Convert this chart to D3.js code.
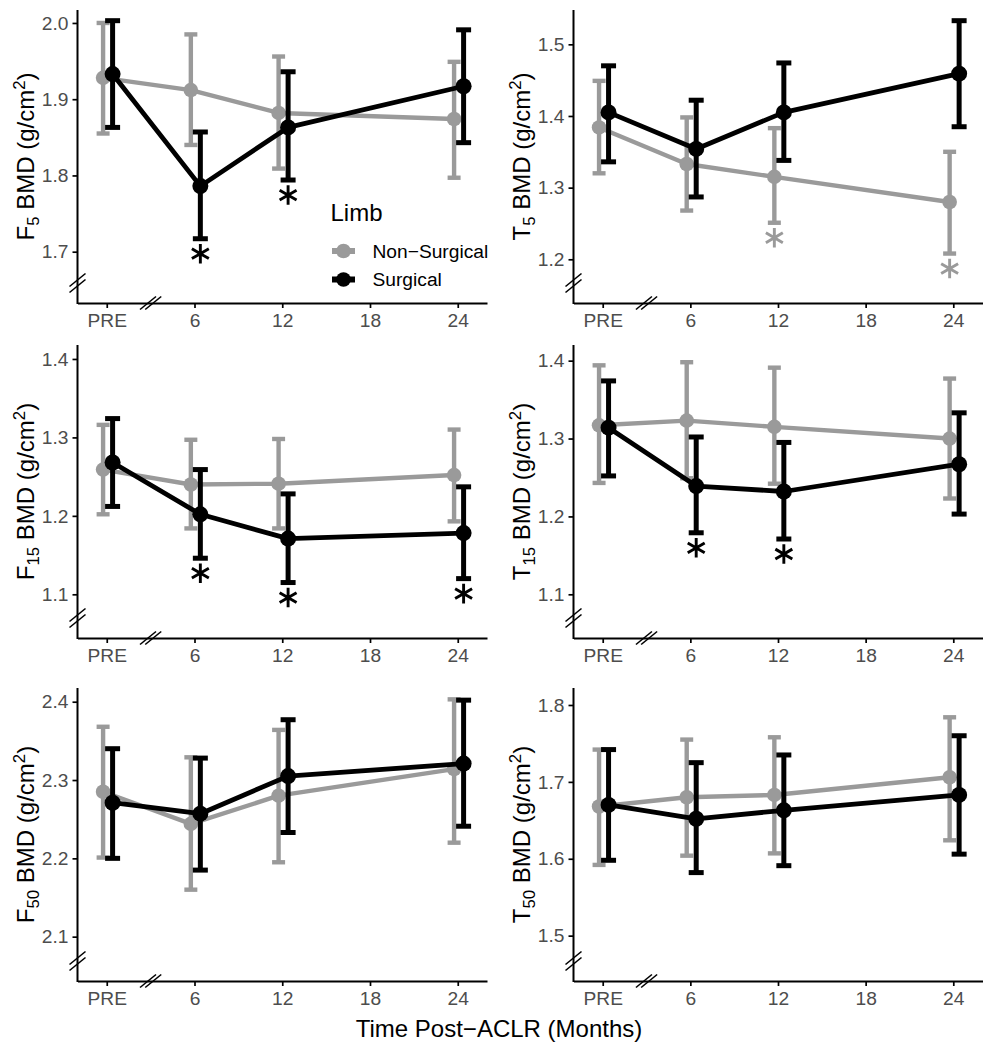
<!DOCTYPE html>
<html><head><meta charset="utf-8">
<script src="https://cdn.jsdelivr.net/npm/d3@7"></script>
<style>
body{margin:0;background:#fff}
svg{display:block}
text{font-family:"Liberation Sans",Arial,Helvetica,sans-serif}
</style>
</head><body>
<svg id="c" width="994" height="1050"></svg>
<script>
// ---------------- DATA ----------------
const seriesNames = ["Non\u2212Surgical", "Surgical"];
const timePoints = [0, 6, 12, 24];           // months (PRE = 0)
const xTicks = [0, 6, 12, 18, 24];
const xTickLabels = ["PRE", "6", "12", "18", "24"];
const xDomain = [-2, 26];

// F5
const F5_non_mean = [1.928, 1.912, 1.882, 1.874];
const F5_non_lo   = [1.855, 1.840, 1.809, 1.797];
const F5_non_hi   = [2.000, 1.985, 1.956, 1.949];
const F5_sur_mean = [1.933, 1.786, 1.863, 1.917];
const F5_sur_lo   = [1.863, 1.717, 1.794, 1.843];
const F5_sur_hi   = [2.003, 1.857, 1.936, 1.991];
// T5
const T5_non_mean = [1.384, 1.333, 1.315, 1.280];
const T5_non_lo   = [1.320, 1.268, 1.251, 1.208];
const T5_non_hi   = [1.449, 1.398, 1.383, 1.350];
const T5_sur_mean = [1.405, 1.354, 1.405, 1.459];
const T5_sur_lo   = [1.336, 1.287, 1.338, 1.385];
const T5_sur_hi   = [1.470, 1.422, 1.474, 1.533];
// F15
const F15_non_mean = [1.259, 1.240, 1.241, 1.252];
const F15_non_lo   = [1.202, 1.184, 1.184, 1.193];
const F15_non_hi   = [1.316, 1.297, 1.298, 1.310];
const F15_sur_mean = [1.268, 1.202, 1.171, 1.178];
const F15_sur_lo   = [1.212, 1.146, 1.115, 1.120];
const F15_sur_hi   = [1.324, 1.259, 1.228, 1.237];
// T15
const T15_non_mean = [1.317, 1.323, 1.315, 1.300];
const T15_non_lo   = [1.243, 1.249, 1.242, 1.223];
const T15_non_hi   = [1.394, 1.398, 1.391, 1.377];
const T15_sur_mean = [1.314, 1.239, 1.232, 1.267];
const T15_sur_lo   = [1.252, 1.179, 1.171, 1.203];
const T15_sur_hi   = [1.374, 1.302, 1.295, 1.333];
// F50
const F50_non_mean = [2.285, 2.244, 2.280, 2.314];
const F50_non_lo   = [2.201, 2.160, 2.195, 2.220];
const F50_non_hi   = [2.368, 2.329, 2.364, 2.403];
const F50_sur_mean = [2.271, 2.257, 2.305, 2.321];
const F50_sur_lo   = [2.200, 2.185, 2.233, 2.241];
const F50_sur_hi   = [2.340, 2.328, 2.377, 2.402];
// T50
const T50_non_mean = [1.668, 1.680, 1.683, 1.706];
const T50_non_lo   = [1.592, 1.604, 1.607, 1.624];
const T50_non_hi   = [1.742, 1.755, 1.758, 1.784];
const T50_sur_mean = [1.670, 1.652, 1.663, 1.683];
const T50_sur_lo   = [1.598, 1.582, 1.591, 1.606];
const T50_sur_hi   = [1.742, 1.725, 1.735, 1.760];

// significance markers: [series index, time]
const F5_sig  = [[1, 6], [1, 12]];
const T5_sig  = [[0, 12], [0, 24]];
const F15_sig = [[1, 6], [1, 12], [1, 24]];
const T15_sig = [[1, 6], [1, 12]];
const F50_sig = [];
const T50_sig = [];

// axis limits and ticks
const F5_yDomain = [1.6327, 2.017],  F5_yTicks = [1.7, 1.8, 1.9, 2.0];
const T5_yDomain = [1.139, 1.5479],  T5_yTicks = [1.2, 1.3, 1.4, 1.5];
const F15_yDomain = [1.0443, 1.4178], F15_yTicks = [1.1, 1.2, 1.3, 1.4];
const T15_yDomain = [1.0439, 1.4201], T15_yTicks = [1.1, 1.2, 1.3, 1.4];
const F50_yDomain = [2.0434, 2.4175], F50_yTicks = [2.1, 2.2, 2.3, 2.4];
const T50_yDomain = [1.441, 1.8221],  T50_yTicks = [1.5, 1.6, 1.7, 1.8];

const panelLetters = ["F", "T", "F", "T", "F", "T"];
const panelSubs = ["5", "5", "15", "15", "50", "50"];

// --------------- BUILD ---------------
function mk(mean, lo, hi) { return timePoints.map((t, i) => ({t, m: mean[i], lo: lo[i], hi: hi[i]})); }
const panels = [
  {series: [mk(F5_non_mean, F5_non_lo, F5_non_hi), mk(F5_sur_mean, F5_sur_lo, F5_sur_hi)], sig: F5_sig, yDomain: F5_yDomain, yTicks: F5_yTicks},
  {series: [mk(T5_non_mean, T5_non_lo, T5_non_hi), mk(T5_sur_mean, T5_sur_lo, T5_sur_hi)], sig: T5_sig, yDomain: T5_yDomain, yTicks: T5_yTicks},
  {series: [mk(F15_non_mean, F15_non_lo, F15_non_hi), mk(F15_sur_mean, F15_sur_lo, F15_sur_hi)], sig: F15_sig, yDomain: F15_yDomain, yTicks: F15_yTicks},
  {series: [mk(T15_non_mean, T15_non_lo, T15_non_hi), mk(T15_sur_mean, T15_sur_lo, T15_sur_hi)], sig: T15_sig, yDomain: T15_yDomain, yTicks: T15_yTicks},
  {series: [mk(F50_non_mean, F50_non_lo, F50_non_hi), mk(F50_sur_mean, F50_sur_lo, F50_sur_hi)], sig: F50_sig, yDomain: F50_yDomain, yTicks: F50_yTicks},
  {series: [mk(T50_non_mean, T50_non_lo, T50_non_hi), mk(T50_sur_mean, T50_sur_lo, T50_sur_hi)], sig: T50_sig, yDomain: T50_yDomain, yTicks: T50_yTicks},
];

const COLORS = ["#9a9a9a", "#000000"];
const DODGE = [-0.25, 0.4];       // months
const CAP = [6.5, 7.5];
const EBW = [4.4, 5];
const LW = [4.4, 4.8];
const R = [7.3, 8];
const cols = [[77.5, 487], [573.5, 982.5]];
const rows = [[10, 303], [345, 638], [688, 981]];
const TICK_COL = "#4D4D4D";

const svg = d3.select("#c");
svg.append("rect").attr("width", 994).attr("height", 1050).attr("fill", "#fff");
const star = d3.symbol().type(d3.symbolAsterisk).size(270);

panels.forEach((p, i) => {
  const col = i % 2, row = Math.floor(i / 2);
  const x = d3.scaleLinear().domain(xDomain).range(cols[col]);
  const y = d3.scaleLinear().domain(p.yDomain).range([rows[row][1], rows[row][0]]);
  const g = svg.append("g");

  // x axis
  const gx = g.append("g").attr("transform", `translate(0,${rows[row][1]})`)
    .call(d3.axisBottom(x).tickValues(xTicks).tickFormat((d, j) => xTickLabels[j])
      .tickSize(5).tickSizeOuter(0).tickPadding(5));
  // y axis
  const gy = g.append("g").attr("transform", `translate(${cols[col][0]},0)`)
    .call(d3.axisLeft(y).tickValues(p.yTicks).tickFormat(d3.format(".1f"))
      .tickSize(5).tickSizeOuter(0).tickPadding(4));
  [gx, gy].forEach(a => {
    a.select(".domain").attr("stroke", "#000").attr("stroke-width", 2);
    a.selectAll(".tick line").attr("stroke", "#000").attr("stroke-width", 1.7);
    a.selectAll(".tick text").attr("fill", TICK_COL).attr("font-size", 19.2)
      .attr("font-family", '"Liberation Sans",Arial,sans-serif');
  });
  gy.select(".domain").attr("d", `M0,${rows[row][0]}V${rows[row][1] + 1}`);

  // axis break marks
  const bx = cols[col][0], by = rows[row][1] - 20;
  [-3, 3].forEach(o => {
    g.append("line").attr("x1", bx - 8).attr("y1", by + o + 6.5).attr("x2", bx + 8).attr("y2", by + o - 6.5)
      .attr("stroke", "#000").attr("stroke-width", 1.6);
  });
  const cx = x(3), cy = rows[row][1];
  [-2.6, 2.6].forEach(o => {
    g.append("line").attr("x1", cx + o - 8).attr("y1", cy + 6.5).attr("x2", cx + o + 8).attr("y2", cy - 6.5)
      .attr("stroke", "#000").attr("stroke-width", 1.6);
  });

  // y title
  const ty = g.append("text")
    .attr("transform", `translate(${cols[col][0] - 44},${(rows[row][0] + rows[row][1]) / 2}) rotate(-90)`)
    .attr("text-anchor", "middle").attr("font-size", 24).attr("fill", "#000");
  ty.append("tspan").text(panelLetters[i]);
  ty.append("tspan").attr("font-size", 16.8).attr("dy", 5).text(panelSubs[i]);
  ty.append("tspan").attr("dy", -5).text(" BMD (g/cm");
  ty.append("tspan").attr("font-size", 16.8).attr("dy", -9).text("2");
  ty.append("tspan").attr("dy", 9).text(")");

  // series
  p.series.forEach((s, k) => {
    const sg = g.append("g");
    const xp = d => x(d.t + DODGE[k]);
    sg.append("path").datum(s)
      .attr("d", d3.line().x(xp).y(d => y(d.m)))
      .attr("fill", "none").attr("stroke", COLORS[k]).attr("stroke-width", LW[k]).attr("stroke-linejoin", "round");
    const eb = sg.selectAll("g.eb").data(s).join("g");
    eb.append("line").attr("x1", xp).attr("x2", xp).attr("y1", d => y(d.lo)).attr("y2", d => y(d.hi))
      .attr("stroke", COLORS[k]).attr("stroke-width", EBW[k]);
    eb.append("line").attr("x1", d => xp(d) - CAP[k]).attr("x2", d => xp(d) + CAP[k])
      .attr("y1", d => y(d.lo)).attr("y2", d => y(d.lo)).attr("stroke", COLORS[k]).attr("stroke-width", EBW[k]);
    eb.append("line").attr("x1", d => xp(d) - CAP[k]).attr("x2", d => xp(d) + CAP[k])
      .attr("y1", d => y(d.hi)).attr("y2", d => y(d.hi)).attr("stroke", COLORS[k]).attr("stroke-width", EBW[k]);
    sg.selectAll("circle").data(s).join("circle")
      .attr("cx", xp).attr("cy", d => y(d.m)).attr("r", R[k]).attr("fill", COLORS[k]);
  });

  // significance asterisks
  p.sig.forEach(([k, t]) => {
    const d = p.series[k].find(e => e.t === t);
    g.append("path").attr("d", star)
      .attr("transform", `translate(${x(t + DODGE[k])},${y(d.lo) + 15})`)
      .attr("fill", "none").attr("stroke", COLORS[k]).attr("stroke-width", 2.9);
  });

  // legend (first panel only)
  if (i === 0) {
    const lg = g.append("g");
    lg.append("text").attr("x", 330.5).attr("y", 220.5).attr("font-size", 24).attr("fill", "#000").text("Limb");
    seriesNames.forEach((nm, k) => {
      const ly = [251, 279.5][k];
      lg.append("line").attr("x1", 332).attr("x2", 355).attr("y1", ly).attr("y2", ly)
        .attr("stroke", COLORS[k]).attr("stroke-width", 6);
      lg.append("circle").attr("cx", 343.5).attr("cy", ly).attr("r", 7.3).attr("fill", COLORS[k]);
      lg.append("text").attr("x", 372.5).attr("y", ly).attr("dy", "0.35em").attr("font-size", 19.2)
        .attr("fill", "#000").text(nm);
    });
  }
});

// x-axis title
svg.append("text").attr("x", 499).attr("y", 1036.5).attr("text-anchor", "middle")
  .attr("font-size", 24).attr("fill", "#000").text("Time Post\u2212ACLR (Months)");
</script>
</body></html>
